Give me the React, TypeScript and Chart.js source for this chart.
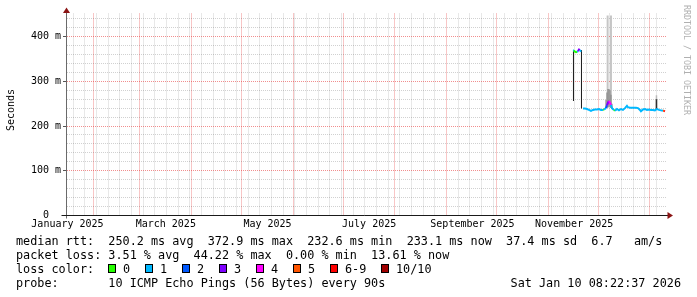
import React, { useEffect, useRef } from 'react';
import { Chart, registerables } from 'chart.js';

Chart.register(...registerables);

// ---- time axis (days since 2025-01-01 00:00) ----
const viewStartDay = 15.22;
const viewEndDay = 375.22;
const labelYear = 2025;
const labelMonthIndices = [0, 2, 4, 6, 8, 10];
const monthNames = ['January', 'February', 'March', 'April', 'May', 'June', 'July', 'August', 'September', 'October', 'November', 'December'];

// ---- y axis (seconds) ----
const yMax = 0.4515;
const yMinorStep = 0.02;
const yTickCount = 22;

// ---- median RTT series ----
const dayOffsets = [
  318.2, 318.8, 319.4, 320.0, 320.6, 321.2, 321.8, 322.4, 323.0, 323.6,
  324.2, 324.8, 326.0, 327.2, 328.4, 329.6, 330.8, 332.0, 333.2, 334.4,
  335.6, 336.8, 337.4, 338.6, 339.2, 339.8, 340.4, 341.0, 341.6, 342.2,
  343.4, 344.0, 345.2, 346.4, 347.6, 348.8, 350.0, 351.2, 351.8, 353.0,
  354.2, 355.4, 356.6, 357.8, 359.0, 359.6, 360.8, 362.0, 363.2, 364.4,
  365.6, 366.8, 368.0, 369.2, 370.4, 371.6, 372.8, 373.4, 374.0,
];
const medianMs = [
  256, 369, 369, 366, 365, 366, 367, 371, 370, 366,
  318, 239, 239, 238, 236, 234, 236, 237, 237, 238,
  236, 236, 237, 240, 246, 252, 256, 252, 247, 240,
  236, 234, 238, 235, 238, 236, 240, 245, 242, 241,
  241, 241, 241, 240, 236, 233, 237, 238, 236, 237,
  236, 236, 235, 238, 236, 235, 234, 234, 233,
];
const lossCount = [
  1, 1, 1, 0, 0, 0, 1, 3, 3, 1,
  1, 1, 1, 1, 1, 1, 1, 1, 1, 1,
  1, 1, 0, 1, 2, 3, 3, 4, 4, 1,
  1, 0, 1, 1, 1, 1, 1, 1, 1, 1,
  1, 1, 1, 1, 1, 1, 1, 1, 1, 1,
  1, 1, 1, 1, 1, 1, 1, 5, 6,
];

// ---- smoke (ping spread) ----
const smokeDays = [319.1, 323.9, 339.6, 341.6, 338.6, 339.2, 339.8, 340.4, 341.0, 341.6, 342.2, 368.9, 368.9];
const smokeLowMs = [256, 239, 241, 240, 240, 241, 242, 243, 242, 240, 238, 236, 236];
const smokeHighMs = [370, 370, 447, 447, 258, 275, 283, 283, 280, 270, 250, 269, 260];
const smokeDensity = [10, 10, 2.5, 2.5, 5, 5, 5, 5, 5, 5, 5, 3, 9];
const smokeWidthPx = [1, 1, 2, 2, 1.2, 1.2, 1.2, 1.2, 1.2, 1.2, 1.2, 1.5, 1.5];

// ---- legend ----
const lossLegendLabels = ['0', '1', '2', '3', '4', '5', '6-9', '10/10'];
const lossLegendColors = ['#26ff00', '#00b8ff', '#0059ff', '#7e00ff', '#ff00ff', '#ff5500', '#ff0000', '#a10000'];
const medianLine = 'median rtt:  250.2 ms avg  372.9 ms max  232.6 ms min  233.1 ms now  37.4 ms sd  6.7   am/s';
const lossLine = 'packet loss: 3.51 % avg  44.22 % max  0.00 % min  13.61 % now';
const probeLine = 'probe:       10 ICMP Echo Pings (56 Bytes) every 90s';
const stampLine = 'Sat Jan 10 08:22:37 2026';
const watermark = 'RRDTOOL / TOBI OETIKER';
const yTitle = 'Seconds';

const MONO = '"DejaVu Sans Mono", monospace';
const MINOR_GRID = 'rgba(0,0,0,0.18)';
const MAJOR_GRID = 'rgba(230,50,50,0.55)';

const epoch = Date.UTC(2025, 0, 1);
const dayOf = (y: number, m: number, d: number) => (Date.UTC(y, m, d) - epoch) / 864e5;

function lossBucket(n: number) {
  return n <= 5 ? n : n < 10 ? 6 : 7;
}
function densityColor(d: number) {
  const g = Math.round(255 - d * 23);
  return `rgb(${g},${g},${g})`;
}

function buildXTicks() {
  const majors: number[] = [];
  for (let k = 0; k < 14; k++) {
    const d = dayOf(2025 + Math.floor(k / 12), k % 12, 1);
    if (d >= viewStartDay && d <= viewEndDay) majors.push(d);
  }
  const t: any[] = [];
  for (let d = 5; d <= viewEndDay; d += 7) {
    if (d >= viewStartDay && !majors.includes(d)) t.push({ value: d, kind: 'minor', text: '' });
  }
  majors.forEach((d) => t.push({ value: d, kind: 'major', text: '' }));
  labelMonthIndices.forEach((m) => {
    const d = dayOf(labelYear, m, 1) + 15.5;
    if (d >= viewStartDay && d <= viewEndDay) t.push({ value: d, kind: 'label', text: `${monthNames[m]} ${labelYear}` });
  });
  t.sort((a, b) => a.value - b.value);
  return t;
}

function buildYTicks() {
  const t: any[] = [];
  for (let i = 0; i <= yTickCount; i++) {
    const major = i % 5 === 0;
    t.push({
      value: +(i * yMinorStep).toFixed(4),
      kind: major ? 'major' : 'minor',
      text: i === 0 ? '0  ' : major ? `${Math.round(i * yMinorStep * 1000)} m` : '',
    });
  }
  return t;
}

const rrdAxesPlugin = {
  id: 'rrdAxes',
  afterDraw(chart: any) {
    const { ctx, chartArea: a } = chart;
    const x0 = Math.round(a.left) - 0.5;
    const y0 = Math.round(a.bottom) - 0.5;
    ctx.save();
    ctx.lineWidth = 1;
    ctx.strokeStyle = '#6a6a6a';
    ctx.beginPath();
    ctx.moveTo(x0, y0 + 3);
    ctx.lineTo(x0, a.top - 1);
    ctx.stroke();
    ctx.strokeStyle = '#1a1a1a';
    ctx.beginPath();
    ctx.moveTo(x0 - 5, y0);
    ctx.lineTo(a.right + 1, y0);
    ctx.stroke();
    ctx.fillStyle = '#8b1414';
    ctx.beginPath();
    ctx.moveTo(x0, a.top - 6);
    ctx.lineTo(x0 - 3.5, a.top - 0.5);
    ctx.lineTo(x0 + 3.5, a.top - 0.5);
    ctx.closePath();
    ctx.fill();
    ctx.beginPath();
    ctx.moveTo(a.right + 6, y0);
    ctx.lineTo(a.right + 0.5, y0 - 3.5);
    ctx.lineTo(a.right + 0.5, y0 + 3.5);
    ctx.closePath();
    ctx.fill();
    ctx.restore();
  },
};

const rowStyle = (centerY: number): React.CSSProperties => ({
  position: 'absolute',
  left: 16,
  top: centerY - 7,
  height: 14,
  lineHeight: '14px',
  fontFamily: MONO,
  fontSize: 11.8,
  color: '#000',
  whiteSpace: 'pre',
});

export default function App() {
  const ref = useRef<HTMLCanvasElement>(null);

  useEffect(() => {
    const canvas = ref.current;
    if (!canvas) return;
    const medianPoints = dayOffsets.map((d, i) => ({ x: d, y: medianMs[i] / 1000 }));
    const smokeDatasets = smokeDays.map((d, i) => ({
      type: 'bar',
      data: [{ x: d, y: [smokeLowMs[i] / 1000, smokeHighMs[i] / 1000] }],
      backgroundColor: densityColor(smokeDensity[i]),
      borderWidth: 0,
      barThickness: smokeWidthPx[i],
      inflateAmount: 0,
      grouped: false,
      order: 1 + (smokeDays.length - i),
    }));
    const chart = new Chart(canvas, {
      type: 'line',
      data: {
        datasets: [
          {
            type: 'line',
            data: medianPoints as any,
            borderWidth: 2,
            pointRadius: 0,
            fill: false,
            tension: 0,
            order: 0,
            segment: {
              borderColor: (c: any) => {
                const i0 = c.p0DataIndex;
                const i1 = c.p1DataIndex;
                if (Math.abs(medianMs[i1] - medianMs[i0]) > 30) return 'rgba(0,0,0,0)';
                return lossLegendColors[lossBucket(lossCount[i1])];
              },
            },
          } as any,
          ...(smokeDatasets as any[]),
        ],
      },
      options: {
        animation: false,
        responsive: false,
        maintainAspectRatio: false,
        devicePixelRatio: 1,
        events: [],
        layout: { padding: { left: 0, right: 30, top: 13.5, bottom: 61.5 } },
        plugins: { legend: { display: false }, tooltip: { enabled: false }, title: { display: false } },
        scales: {
          x: {
            type: 'linear',
            min: viewStartDay,
            max: viewEndDay,
            offset: false,
            afterBuildTicks: (scale: any) => {
              scale.ticks = buildXTicks();
            },
            afterFit: (scale: any) => {
              scale.height = 20;
            },
            grid: {
              offset: false,
              drawTicks: false,
              lineWidth: 1,
              color: (c: any) => (c.tick && c.tick.kind === 'major' ? MAJOR_GRID : c.tick && c.tick.kind === 'minor' ? MINOR_GRID : 'rgba(0,0,0,0)'),
            },
            border: { display: false, dash: [1, 1] },
            ticks: {
              autoSkip: false,
              maxRotation: 0,
              minRotation: 0,
              padding: 3,
              color: '#000',
              font: { family: MONO, size: 10 },
              callback: (_v: any, i: number, ticks: any[]) => ticks[i].text || '',
            },
          } as any,
          y: {
            type: 'linear',
            min: 0,
            max: yMax,
            afterBuildTicks: (scale: any) => {
              scale.ticks = buildYTicks();
            },
            afterFit: (scale: any) => {
              scale.width = 67;
            },
            grid: {
              drawTicks: true,
              tickLength: 4,
              tickColor: (c: any) => (c.tick && c.tick.kind === 'major' ? '#555' : 'rgba(0,0,0,0)'),
              lineWidth: 1,
              color: (c: any) => (c.tick && c.tick.kind === 'major' ? MAJOR_GRID : MINOR_GRID),
            },
            border: { display: false, dash: [1, 1] },
            ticks: {
              autoSkip: false,
              padding: 2,
              color: '#000',
              font: { family: MONO, size: 10 },
              callback: (_v: any, i: number, ticks: any[]) => ticks[i].text || '',
            },
          } as any,
        },
      },
      plugins: [rrdAxesPlugin],
    } as any);
    return () => chart.destroy();
  }, []);

  return (
    <div style={{ position: 'fixed', left: 0, top: 0, width: 697, height: 297, background: '#fff', overflow: 'hidden' }}>
      <canvas ref={ref} width={697} height={297} style={{ position: 'absolute', left: 0, top: 0, width: 697, height: 297 }} />
      <div
        style={{
          position: 'absolute',
          left: 10.8 - 30,
          top: 110 - 6,
          width: 60,
          height: 12,
          lineHeight: '12px',
          textAlign: 'center',
          fontFamily: MONO,
          fontSize: 10,
          color: '#000',
          transform: 'rotate(-90deg)',
          whiteSpace: 'pre',
        }}
      >
        {yTitle}
      </div>
      <div
        style={{
          position: 'absolute',
          left: 682,
          top: 5,
          writingMode: 'vertical-rl',
          lineHeight: '10px',
          fontFamily: MONO,
          fontSize: 8.3,
          color: '#b0b0b0',
          whiteSpace: 'pre',
        }}
      >
        {watermark}
      </div>
      <div style={rowStyle(240.5)}>{medianLine}</div>
      <div style={rowStyle(254.5)}>{lossLine}</div>
      <div style={rowStyle(268.5)}>loss color:</div>
      {lossLegendLabels.map((lab, i) => {
        const extra = i === 7 ? 14 : 0;
        const bx = 108 + i * 37 + extra;
        return (
          <React.Fragment key={lab}>
            <div
              style={{
                position: 'absolute',
                left: bx,
                top: 264,
                width: 8,
                height: 9,
                boxSizing: 'border-box',
                border: '1px solid #000',
                background: lossLegendColors[i],
              }}
            />
            <div style={{ ...rowStyle(268.5), left: bx + 15 }}>{lab}</div>
          </React.Fragment>
        );
      })}
      <div style={rowStyle(282.5)}>{probeLine}</div>
      <div style={{ ...rowStyle(282.5), left: 'auto', right: 16 }}>{stampLine}</div>
    </div>
  );
}
